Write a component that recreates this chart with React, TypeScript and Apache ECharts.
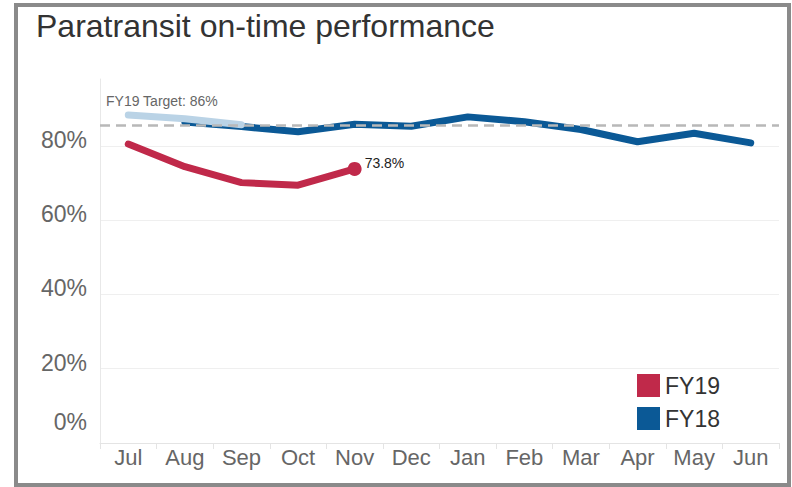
import React, { useEffect, useRef } from "react";
import * as echarts from "echarts";

const months = ["Jul", "Aug", "Sep", "Oct", "Nov", "Dec", "Jan", "Feb", "Mar", "Apr", "May", "Jun"];
const fy19 = [80.5, 74.4, 70.1, 69.4, 73.8, null, null, null, null, null, null, null];
const fy18 = [null, 86.4, 85.2, 83.8, 85.8, 85.3, 87.8, 86.5, 84.4, 81.1, 83.4, 80.8];
const fy18Early = [88.3, 87.3, 85.7, null, null, null, null, null, null, null, null, null];
const target = 85.5;
const targetLabel = "FY19 Target: 86%";
const yTicks = [0, 20, 40, 60, 80];

const FONT = "'Liberation Sans', Arial, sans-serif";
const RED = "#c0294a";
const BLUE = "#0b5996";
const LIGHT = "#bad3e6";

export default function App() {
  const ref = useRef<HTMLDivElement>(null);
  useEffect(() => {
    const chart = echarts.init(ref.current!, null, { renderer: "svg" });
    chart.setOption({
      animation: false,
      textStyle: { fontFamily: FONT },
      title: {
        text: "Paratransit on-time performance",
        left: 31,
        top: 5,
        textStyle: { fontFamily: FONT, fontSize: 32, fontWeight: "normal", color: "#333" },
      },
      graphic: [
        {
          type: "rect",
          shape: { x: 16, y: 5, width: 773, height: 480 },
          style: { fill: "none", stroke: "#8a8a8a", lineWidth: 4 },
          silent: true,
        },
      ],
      legend: {
        orient: "vertical",
        left: 637,
        top: 374,
        padding: 0,
        icon: "rect",
        itemWidth: 23,
        itemHeight: 23,
        itemGap: 10,
        data: ["FY19", "FY18"],
        textStyle: { fontFamily: FONT, fontSize: 23, color: "#333" },
      },
      grid: { left: 100, right: 13, top: 79, bottom: 44 },
      xAxis: {
        type: "category",
        data: months,
        boundaryGap: true,
        axisLine: { show: true, lineStyle: { color: "#e4e4e4", width: 1 } },
        axisTick: { show: true, length: 6, lineStyle: { color: "#e4e4e4" } },
        axisLabel: { fontFamily: FONT, fontSize: 22, color: "#666", margin: 3 },
        splitLine: { show: false },
      },
      yAxis: {
        type: "value",
        min: 0,
        max: 98,
        interval: 20,
        axisLine: { show: true, lineStyle: { color: "#e8e8e8", width: 1 } },
        axisTick: { show: false },
        axisLabel: {
          fontFamily: FONT,
          fontSize: 23,
          color: "#666",
          margin: 13,
          padding: [0, 0, 12, 0],
          formatter: (v: number) => {
            if (!yTicks.includes(v)) return "";
            if (v === 0) return "{z|0%}";
            return v + "%";
          },
          rich: {
            z: { fontFamily: FONT, fontSize: 23, color: "#666", padding: [0, 0, 30, 0] },
          },
        },
        splitLine: {
          show: true,
          lineStyle: { color: ["#efefef", "#efefef", "#efefef", "#efefef", "#efefef", "rgba(0,0,0,0)"], width: 1 },
        },
      },
      series: [
        {
          name: "FY18",
          type: "line",
          data: fy18,
          z: 3,
          symbol: "circle",
          symbolSize: 1,
          showSymbol: false,
          itemStyle: { color: BLUE },
          lineStyle: { color: BLUE, width: 7, cap: "round", join: "round" },
          markLine: {
            silent: true,
            symbol: "none",
            data: [{ yAxis: target }],
            lineStyle: { color: "#b8b8b8", type: [10, 6], width: 2.5 },
            label: {
              show: true,
              position: "insideStartTop",
              formatter: targetLabel,
              fontFamily: FONT,
              fontSize: 14,
              color: "#666",
              distance: [6, 17],
            },
            z: 5,
          },
        },
        {
          name: "FY18early",
          type: "line",
          data: fy18Early,
          z: 4,
          showSymbol: false,
          lineStyle: { color: LIGHT, width: 7, cap: "round", join: "round" },
          itemStyle: { color: LIGHT },
        },
        {
          name: "FY19",
          type: "line",
          data: fy19.map((v, i) =>
            i === 4
              ? {
                  value: v,
                  symbol: "circle",
                  symbolSize: 14,
                  label: {
                    show: true,
                    position: "right",
                    distance: 3,
                    offset: [0, -6],
                    formatter: (p: any) => p.value + "%",
                    fontFamily: FONT,
                    fontSize: 14,
                    color: "#222",
                  },
                }
              : { value: v, symbol: "none" }
          ),
          z: 6,
          itemStyle: { color: RED },
          lineStyle: { color: RED, width: 7, cap: "round", join: "round" },
        },
      ],
    });
    return () => chart.dispose();
  }, []);
  return (
    <div style={{ position: "fixed", left: 0, top: 0, width: 792, height: 487, background: "#fff" }}>
      <div ref={ref} style={{ width: 792, height: 487 }} />
    </div>
  );
}
